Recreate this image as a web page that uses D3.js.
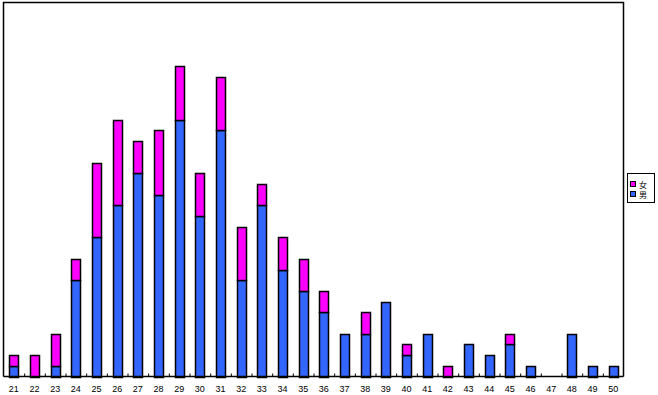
<!DOCTYPE html>
<html><head><meta charset="utf-8">
<script src="https://cdn.jsdelivr.net/npm/d3@7"></script>
<style>html,body{margin:0;padding:0;background:#fff;}svg{display:block;}</style>
</head><body>
<script>
const categories = ["21","22","23","24","25","26","27","28","29","30","31","32","33","34","35","36","37","38","39","40","41","42","43","44","45","46","47","48","49","50"];
const male   = [1,0,1,9,13,16,19,17,24,15,23,9,16,10,8,6,4,4,7,2,4,0,3,2,3,1,0,4,1,1];
const female = [1,2,3,2,7,8,3,6,5,4,5,5,2,3,3,2,0,2,0,1,0,1,0,0,1,0,0,0,0,0];
const seriesNames = ["男","女"];
const colors = {"男":"#3366ff","女":"#ff00ff"};

const W = 658, H = 395;
const L = 3.5, R = 623.5, T = 2.5, B = 376.5;
const svg = d3.select("body").append("svg").attr("width", W).attr("height", H);

const x = d3.scaleBand().domain(categories).range([L, R]).paddingInner(0.56).paddingOuter(0.28);
const y = d3.scaleLinear().domain([0, 35]).range([B, B - 35*10.7]);

// frame
svg.append("path").attr("d", `M${L},${B}V${T}H${R}V${B}`).attr("fill","none").attr("stroke","#000").attr("stroke-width",1.5);

const stack = d3.stack().keys(seriesNames)(categories.map((c,i)=>({cat:c,"男":male[i],"女":female[i]})));
stack.forEach(s=>{
  svg.append("g").selectAll("rect").data(s.filter(d=>d[1]-d[0]>0)).join("rect")
    .attr("x", d=>Math.round(x(d.data.cat))+0.5)
    .attr("width", Math.round(x.bandwidth()))
    .attr("y", d=>Math.round(y(d[1]))+0.5)
    .attr("height", d=>Math.round(y(d[0]))-Math.round(y(d[1])))
    .attr("fill", colors[s.key]).attr("stroke","#000").attr("stroke-width",1.5);
});

// axis
const step = (R-L)/categories.length;
const bx = d3.scaleLinear().domain([0, categories.length]).range([L, R]);
const ax = svg.append("g").attr("transform",`translate(0,${B})`)
  .call(d3.axisBottom(bx).tickValues(d3.range(1,categories.length)).tickSize(-3).tickFormat(""));
ax.select(".domain").attr("stroke","#000").attr("stroke-width",1.5).attr("d",`M${L},0H${R}`);
ax.selectAll(".tick line").attr("stroke","#000");

svg.append("g").selectAll("text").data(categories).join("text")
  .attr("x", d=>x(d)+x.bandwidth()/2).attr("y", 392)
  .attr("text-anchor","middle").attr("font-family","Liberation Sans, Arial, sans-serif")
  .attr("font-size", 9).attr("fill","#000").text(d=>d);

// legend
const lg = svg.append("g");
lg.append("rect").attr("x",627.5).attr("y",173.5).attr("width",27).attr("height",29).attr("fill","#fff").attr("stroke","#000");
["女","男"].forEach((k,i)=>{
  lg.append("rect").attr("x",630.5).attr("y",181.5+i*10).attr("width",5).attr("height",5).attr("fill",colors[k]).attr("stroke","#000");
  lg.append("text").attr("x",639).attr("y",188+i*10).attr("font-family","Noto Sans CJK JP, sans-serif").attr("font-size",8).attr("fill","#000").text(k);
});
</script>
</body></html>
